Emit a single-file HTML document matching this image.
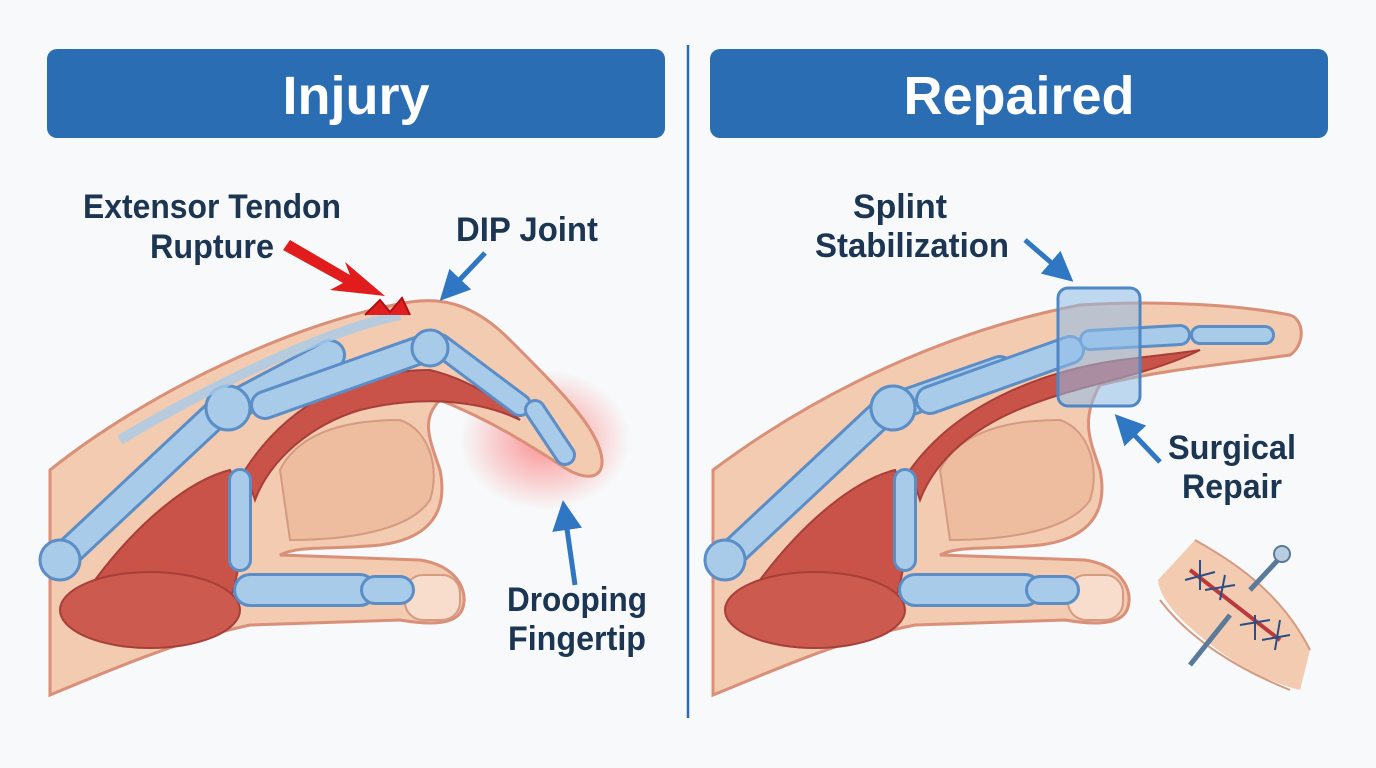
<!DOCTYPE html>
<html><head><meta charset="utf-8"><style>
html,body{margin:0;padding:0;background:#f7f9fa;}
svg{display:block}
text{font-family:"Liberation Sans",sans-serif;font-weight:bold}
</style></head><body>
<svg width="1376" height="768" viewBox="0 0 1376 768" xmlns="http://www.w3.org/2000/svg">
<defs>
<radialGradient id="glow" cx="0.5" cy="0.5" r="0.5">
<stop offset="0" stop-color="#ff3030" stop-opacity="0.55"/><stop offset="0.6" stop-color="#ff5050" stop-opacity="0.25"/><stop offset="1" stop-color="#ff6060" stop-opacity="0"/></radialGradient>
<marker id="ab" markerWidth="6" markerHeight="6" refX="3" refY="3" orient="auto"><path d="M0,0 L6,3 L0,6 Z" fill="#2f77c2"/></marker>
</defs>
<rect width="1376" height="768" fill="#f7f9fa"/>
<rect x="47" y="49" width="618" height="89" rx="10" fill="#2a6db3"/>
<rect x="710" y="49" width="618" height="89" rx="10" fill="#2a6db3"/>
<text x="356" y="114" font-size="54" fill="#fff" text-anchor="middle">Injury</text>
<text x="1019" y="114" font-size="54" fill="#fff" text-anchor="middle">Repaired</text>
<line x1="688" y1="45" x2="688" y2="718" stroke="#2a6db3" stroke-width="2.5"/>

<g>
<ellipse cx="545" cy="440" rx="85" ry="70" fill="url(#glow)"/>
<path d="M50,470 C150,390 300,320 410,302 C450,296 480,310 510,340 C560,390 600,430 602,460 C603,480 585,480 565,468 C530,445 490,420 440,400 C420,420 430,440 440,470 C450,520 420,540 380,545 C330,550 300,545 280,555 L420,560 C455,565 470,590 462,610 C455,625 430,625 400,620 L250,625 C180,640 110,670 50,695 Z" fill="#f3cbb0" stroke="#d98f78" stroke-width="3"/>
<path d="M280,470 C300,430 350,420 400,420 C430,430 440,470 430,500 C410,530 350,540 290,540 Z" fill="#eebda0" stroke="#d49a82" stroke-width="2"/>
<rect x="405" y="575" width="55" height="45" rx="18" fill="#f8dccc" stroke="#d49a82" stroke-width="2"/>
<path d="M95,580 C140,520 190,480 230,470 C250,520 240,570 230,600 C180,610 130,600 95,580Z" fill="#c95349" stroke="#a83e38" stroke-width="2"/>
<ellipse cx="150" cy="610" rx="90" ry="38" fill="#cc5a4f" stroke="#a83e38" stroke-width="2"/>
<path d="M245,470 C290,400 360,370 430,370 C470,380 500,400 520,420 C480,400 420,395 360,410 C310,425 270,460 255,500Z" fill="#c95349" stroke="#a83e38" stroke-width="2"/>
<g stroke="#5b8dc6" stroke-width="3" fill="#a8cbea" stroke-linecap="round">
<path d="M60,560 L215,415" stroke-width="30"/>
<path d="M60,560 L215,415" stroke="#a8cbea" stroke-width="24"/>
<path d="M235,405 L330,355" stroke-width="32"/><path d="M235,405 L330,355" stroke="#a8cbea" stroke-width="26"/>
<path d="M265,405 L420,350" stroke-width="30"/><path d="M265,405 L420,350" stroke="#a8cbea" stroke-width="24"/>
<path d="M440,345 L520,405" stroke-width="24"/><path d="M440,345 L520,405" stroke="#a8cbea" stroke-width="18"/>
<path d="M535,410 L565,455" stroke-width="22"/><path d="M535,410 L565,455" stroke="#a8cbea" stroke-width="16"/>
<path d="M250,590 L360,590" stroke-width="34"/><path d="M250,590 L360,590" stroke="#a8cbea" stroke-width="28"/>
<path d="M375,590 L400,590" stroke-width="30"/><path d="M375,590 L400,590" stroke="#a8cbea" stroke-width="24"/>
<path d="M240,480 L240,560" stroke-width="24"/><path d="M240,480 L240,560" stroke="#a8cbea" stroke-width="18"/>
<circle cx="228" cy="408" r="22"/><circle cx="430" cy="348" r="18"/><circle cx="60" cy="560" r="20"/>
</g>
<path d="M120,440 C220,380 330,330 400,315" stroke="#a8cbea" stroke-width="10" fill="none" opacity="0.8"/>
<path d="M365,315 L380,300 L390,312 L402,298 L410,315" fill="#e02020" stroke="#b01010" stroke-width="2"/>
<path d="M290,240 L350,275 L345,262 L385,296 L330,290 L343,283 L283,250Z" fill="#e01c1c"/>
<line x1="485" y1="253" x2="450" y2="290" stroke="#2f77c2" stroke-width="5" marker-end="url(#ab)"/>
<line x1="575" y1="585" x2="565" y2="515" stroke="#2f77c2" stroke-width="5" marker-end="url(#ab)"/>
<text x="212" y="218" font-size="34" fill="#1b3552" text-anchor="middle" textLength="258" lengthAdjust="spacingAndGlyphs">Extensor Tendon</text>
<text x="212" y="258" font-size="34" fill="#1b3552" text-anchor="middle" textLength="124" lengthAdjust="spacingAndGlyphs">Rupture</text>
<text x="527" y="241" font-size="34" fill="#1b3552" text-anchor="middle" textLength="142" lengthAdjust="spacingAndGlyphs">DIP Joint</text>
<text x="577" y="611" font-size="34" fill="#1b3552" text-anchor="middle" textLength="140" lengthAdjust="spacingAndGlyphs">Drooping</text>
<text x="577" y="650" font-size="34" fill="#1b3552" text-anchor="middle" textLength="138" lengthAdjust="spacingAndGlyphs">Fingertip</text>
</g>

<g>
<path d="M713,470 C820,390 950,330 1080,305 C1160,300 1240,305 1290,315 C1305,320 1305,345 1290,355 C1220,365 1160,370 1100,385 C1080,420 1090,440 1100,470 C1110,520 1080,540 1040,545 C990,550 960,545 940,555 L1085,560 C1120,565 1135,590 1127,610 C1120,625 1095,625 1065,620 L915,625 C840,640 775,670 713,695 Z" fill="#f3cbb0" stroke="#d98f78" stroke-width="3"/>
<path d="M940,470 C960,430 1010,420 1060,420 C1090,430 1100,470 1090,500 C1070,530 1010,540 950,540 Z" fill="#eebda0" stroke="#d49a82" stroke-width="2"/>
<rect x="1068" y="575" width="55" height="45" rx="18" fill="#f8dccc" stroke="#d49a82" stroke-width="2"/>
<path d="M760,580 C805,520 855,480 895,470 C915,520 905,570 895,600 C845,610 795,600 760,580Z" fill="#c95349" stroke="#a83e38" stroke-width="2"/>
<ellipse cx="815" cy="610" rx="90" ry="38" fill="#cc5a4f" stroke="#a83e38" stroke-width="2"/>
<path d="M910,470 C960,400 1050,370 1120,360 C1160,355 1190,352 1200,350 C1150,375 1080,385 1030,405 C975,425 935,460 920,500Z" fill="#c95349" stroke="#a83e38" stroke-width="2"/>
<g stroke="#5b8dc6" stroke-width="3" fill="#a8cbea" stroke-linecap="round">
<path d="M725,560 L880,415" stroke-width="30"/><path d="M725,560 L880,415" stroke="#a8cbea" stroke-width="24"/>
<path d="M900,405 L1000,370" stroke-width="30"/><path d="M900,405 L1000,370" stroke="#a8cbea" stroke-width="24"/>
<path d="M930,400 L1070,350" stroke-width="30"/><path d="M930,400 L1070,350" stroke="#a8cbea" stroke-width="24"/>
<path d="M1090,340 L1180,335" stroke-width="22"/><path d="M1090,340 L1180,335" stroke="#a8cbea" stroke-width="16"/>
<path d="M1200,335 L1265,335" stroke-width="20"/><path d="M1200,335 L1265,335" stroke="#a8cbea" stroke-width="14"/>
<path d="M915,590 L1025,590" stroke-width="34"/><path d="M915,590 L1025,590" stroke="#a8cbea" stroke-width="28"/>
<path d="M1040,590 L1065,590" stroke-width="30"/><path d="M1040,590 L1065,590" stroke="#a8cbea" stroke-width="24"/>
<path d="M905,480 L905,560" stroke-width="24"/><path d="M905,480 L905,560" stroke="#a8cbea" stroke-width="18"/>
<circle cx="893" cy="408" r="22"/><circle cx="725" cy="560" r="20"/>
</g>
<rect x="1058" y="288" width="82" height="118" rx="10" fill="#8fbde8" fill-opacity="0.55" stroke="#4f87c4" stroke-width="3"/>
<line x1="1025" y1="240" x2="1062" y2="272" stroke="#2f77c2" stroke-width="5" marker-end="url(#ab)"/>
<line x1="1160" y1="462" x2="1125" y2="425" stroke="#2f77c2" stroke-width="5" marker-end="url(#ab)"/>
<text x="900" y="218" font-size="34" fill="#1b3552" text-anchor="middle" textLength="94" lengthAdjust="spacingAndGlyphs">Splint</text>
<text x="912" y="257" font-size="34" fill="#1b3552" text-anchor="middle" textLength="194" lengthAdjust="spacingAndGlyphs">Stabilization</text>
<text x="1232" y="459" font-size="34" fill="#1b3552" text-anchor="middle" textLength="128" lengthAdjust="spacingAndGlyphs">Surgical</text>
<text x="1232" y="498" font-size="34" fill="#1b3552" text-anchor="middle" textLength="100" lengthAdjust="spacingAndGlyphs">Repair</text>
<path d="M1195,540 C1230,560 1280,590 1310,650 L1300,690 C1260,680 1230,660 1205,640 C1180,620 1160,600 1158,580 Z" fill="#f3cbb0"/>
<path d="M1195,540 C1230,560 1280,590 1310,650 M1160,600 C1190,640 1240,670 1290,690" stroke="#d49a82" stroke-width="2" fill="none"/>
<path d="M1190,570 L1280,640" stroke="#b83a3a" stroke-width="4"/>
<g stroke="#2a4f86" stroke-width="2" fill="none">
<path d="M1200,560 L1200,590 M1185,580 L1215,572"/><path d="M1225,575 L1220,600 M1205,590 L1235,585"/>
<path d="M1255,615 L1255,640 M1240,625 L1270,620"/><path d="M1280,620 L1275,650 M1262,640 L1290,635"/>
</g>
<line x1="1278" y1="560" x2="1250" y2="590" stroke="#5a7a9a" stroke-width="5"/>
<line x1="1230" y1="615" x2="1190" y2="665" stroke="#5a7a9a" stroke-width="5"/>
<circle cx="1282" cy="554" r="8" fill="#b8cde0" stroke="#5a7a9a" stroke-width="2"/>
</g>
</svg>
</body></html>
